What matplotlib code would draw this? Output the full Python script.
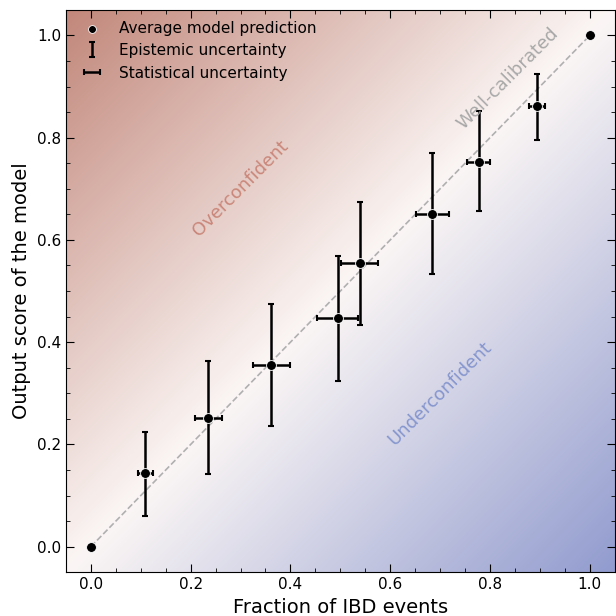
import numpy as np
import matplotlib.pyplot as plt
from matplotlib.colors import LinearSegmentedColormap

# calibration points
frac_ibd = [0.0, 0.109, 0.235, 0.362, 0.495, 0.539, 0.684, 0.777, 0.895, 1.0]
score = [0.0, 0.145, 0.251, 0.355, 0.447, 0.555, 0.651, 0.753, 0.861, 1.0]
epi_lo = [0.0, 0.084, 0.108, 0.118, 0.122, 0.122, 0.118, 0.096, 0.065, 0.0]
epi_hi = [0.0, 0.080, 0.112, 0.120, 0.122, 0.120, 0.120, 0.100, 0.064, 0.0]
stat_err = [0.0, 0.015, 0.027, 0.037, 0.041, 0.037, 0.033, 0.023, 0.016, 0.0]

x = np.array(frac_ibd)
y = np.array(score)

fig, ax = plt.subplots(figsize=(6.16, 6.16), dpi=100)
fig.subplots_adjust(left=0.107, right=0.998, bottom=0.071, top=0.984)

xmin, xmax, ymin, ymax = -0.05, 1.05, -0.05, 1.05

# background: red above diagonal, blue below
cmap = LinearSegmentedColormap.from_list(
    'calib', [(0.0, (0.57, 0.61, 0.81)), (0.5, (0.985, 0.965, 0.96)), (1.0, (0.76, 0.53, 0.48))])
gx, gy = np.meshgrid(np.linspace(xmin, xmax, 400), np.linspace(ymin, ymax, 400))
ax.imshow(gy - gx, extent=[xmin, xmax, ymin, ymax], origin='lower', cmap=cmap,
          vmin=-1.1, vmax=1.1, aspect='auto', zorder=0, interpolation='bilinear')

ax.plot([0, 1], [0, 1], ls='--', color='#b0b0b0', lw=1.2, zorder=1)

eb1 = ax.errorbar(x, y, yerr=[epi_lo, epi_hi], fmt='none', ecolor='k', elinewidth=1.8,
                  capsize=2.5, capthick=1.5, zorder=2, label='Epistemic uncertainty')
eb2 = ax.errorbar(x, y, xerr=stat_err, fmt='none', ecolor='k', elinewidth=1.8,
                  capsize=2.5, capthick=1.5, zorder=2, label='Statistical uncertainty')
sc = ax.scatter(x, y, s=50, color='k', edgecolor='white', linewidth=0.6, zorder=3,
                label='Average model prediction')

ax.text(0.30, 0.70, 'Overconfident', rotation=45, color='#c57a6c', fontsize=13,
        ha='center', va='center', alpha=0.85)
ax.text(0.70, 0.30, 'Underconfident', rotation=45, color='#7d8fcb', fontsize=13,
        ha='center', va='center', alpha=0.9)
ax.text(0.835, 0.915, 'Well-calibrated', rotation=45, color='#a8a8a8', fontsize=13,
        ha='center', va='center')

ax.set_xlim(xmin, xmax)
ax.set_ylim(ymin, ymax)
ax.set_xticks(np.arange(0, 1.01, 0.2))
ax.set_yticks(np.arange(0, 1.01, 0.2))
ax.minorticks_on()
ax.tick_params(which='both', direction='in', top=True, right=True, labelsize=11)
ax.tick_params(which='major', length=6)
ax.tick_params(which='minor', length=3)
ax.set_xlabel('Fraction of IBD events', fontsize=14)
ax.set_ylabel('Output score of the model', fontsize=14)

ax.legend(handles=[sc, eb1, eb2], loc='upper left', frameon=False, fontsize=11,
          handletextpad=0.8, borderaxespad=0.3, markerscale=0.8)

fig.savefig('out.png', dpi=100)
